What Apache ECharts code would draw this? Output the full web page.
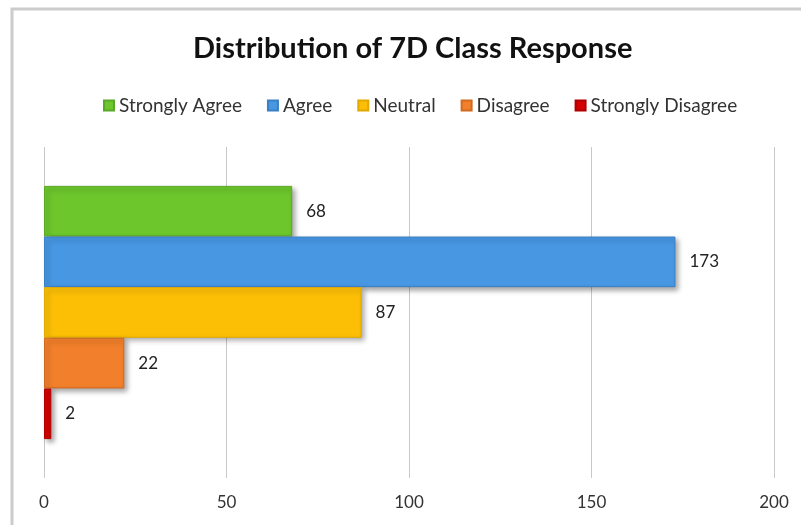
<!DOCTYPE html>
<html>
<head>
<meta charset="utf-8">
<script src="https://cdn.jsdelivr.net/npm/echarts@6/dist/echarts.min.js"></script>
<style>
  html, body { margin: 0; padding: 0; background: #fff; }
  #chart { width: 801px; height: 525px; }
</style>
</head>
<body>
<div id="chart"></div>
<script>
// data
var titleText = 'Distribution of 7D Class Response';
var responses = ['Strongly Agree', 'Agree', 'Neutral', 'Disagree', 'Strongly Disagree'];
var counts = [68, 173, 87, 22, 2];
var colors = ['#6cc62c', '#4797e3', '#fcbf06', '#f17f2b', '#d50000'];
var borders = ['#5aa828', '#3b7fc4', '#e0a800', '#d06a20', '#b00000'];
var axisMin = 0, axisMax = 200, axisStep = 50;

var chart = echarts.init(document.getElementById('chart'));

var series = [];
for (var i = 0; i < responses.length; i++) {
    series.push({
        name: responses[i],
        type: 'bar',
        data: [counts[i]],
        barGap: '0%',
        barCategoryGap: '23.5%',
        itemStyle: {
            color: colors[i],
            borderColor: borders[i],
            borderWidth: 1,
            shadowColor: 'rgba(0,0,0,0.35)',
            shadowBlur: 5,
            shadowOffsetX: 3,
            shadowOffsetY: 3
        },
        label: {
            show: true,
            position: 'right',
            distance: 14,
            color: '#222',
            fontFamily: 'Lato',
            fontSize: 17
        }
    });
}

var option = {
    backgroundColor: '#fff',
    animation: false,
    title: {
        text: titleText,
        left: 188,
        top: 29,
        textStyle: {
            fontFamily: 'Lato',
            fontWeight: 'bold',
            fontSize: 29,
            color: '#111'
        }
    },
    legend: {
        data: responses,
        top: 91,
        left: 98,
        icon: 'rect',
        itemWidth: 10,
        itemHeight: 10,
        itemGap: 25,
        textStyle: {
            fontFamily: 'Lato',
            fontSize: 19,
            color: '#333'
        }
    },
    grid: {
        left: 44,
        right: 27,
        top: 147,
        bottom: 47
    },
    xAxis: {
        type: 'value',
        min: axisMin,
        max: axisMax,
        interval: axisStep,
        axisLine: { show: false },
        axisTick: { show: false },
        splitLine: { lineStyle: { color: '#c8c8c8', width: 1 } },
        axisLabel: {
            margin: 16,
            fontFamily: 'Lato',
            fontSize: 17,
            color: '#333'
        }
    },
    yAxis: {
        type: 'category',
        data: [''],
        inverse: true,
        axisLine: { show: false },
        axisTick: { show: false },
        axisLabel: { show: false }
    },
    graphic: [
        {
            type: 'polyline',
            shape: { points: [[12, 525], [12, 9], [801, 9]] },
            style: { stroke: '#cccccc', lineWidth: 3, fill: null },
            silent: true
        }
    ],
    series: series
};

chart.setOption(option);
window.addEventListener('resize', function () {
    chart.resize();
});
</script>
</body>
</html>
